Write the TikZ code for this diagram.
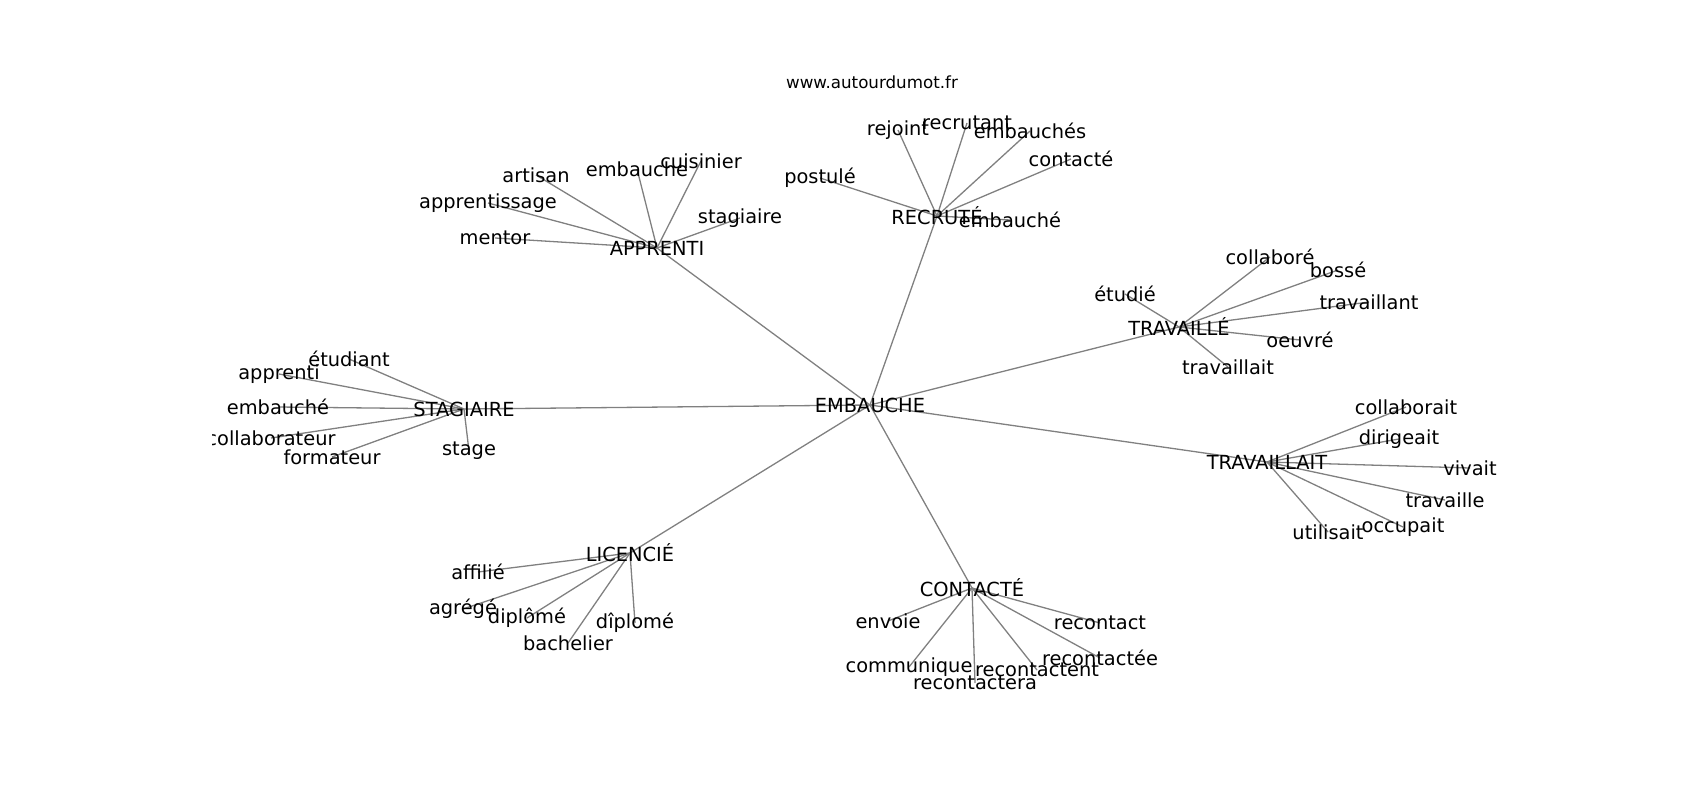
\documentclass[tikz,border=0pt]{standalone}
\usepackage{fontspec}
\setmainfont{DejaVu Sans}
\pgfdeclarelayer{bg}
\pgfsetlayers{bg,main}
\tikzset{
  lbl/.style={inner sep=0pt, font=\fontsize{19.4}{23}\selectfont, text=black},
  ttl/.style={inner sep=0pt, font=\fontsize{16.7}{20}\selectfont, text=black},
  edge/.style={draw=black!50, line width=1.3pt},
}
\begin{document}
\begin{tikzpicture}[x=1pt,y=-1pt]
\useasboundingbox (0,0) rectangle (1700,800);
\node[ttl] (title) at (872,82) {www.autourdumot.fr};
\begin{scope}
\clip (212.5,96) rectangle (1530,712);
\node[lbl] (emb) at (870,405) {EMBAUCHE};
% APPRENTI
\node[lbl] (app) at (657,248) {APPRENTI};
\node[lbl] (a1) at (536,175) {artisan};
\node[lbl] (a2) at (637,169) {embauche};
\node[lbl] (a3) at (701,161) {cuisinier};
\node[lbl] (a4) at (488,203) {apprentissage};
\node[lbl] (a5) at (495,238) {mentor};
\node[lbl] (a6) at (740,218) {stagiaire};
% RECRUTE
\node[lbl] (rec) at (937,216) {RECRUTÉ};
\node[lbl] (r1) at (898,130) {rejoint};
\node[lbl] (r2) at (967,123) {recrutant};
\node[lbl] (r3) at (1030,131) {embauchés};
\node[lbl] (r4) at (1071,159) {contacté};
\node[lbl] (r5) at (820,178) {postulé};
\node[lbl] (r6) at (1010,220) {embauché};
% TRAVAILLE
\node[lbl] (tve) at (1179,327) {TRAVAILLÉ};
\node[lbl] (e1) at (1270,257) {collaboré};
\node[lbl] (e2) at (1338,270) {bossé};
\node[lbl] (e3) at (1125,294) {étudié};
\node[lbl] (e4) at (1369,302) {travaillant};
\node[lbl] (e5) at (1300,340) {oeuvré};
\node[lbl] (e6) at (1228,367) {travaillait};
% TRAVAILLAIT
\node[lbl] (tvt) at (1267,462) {TRAVAILLAIT};
\node[lbl] (t1) at (1406,407) {collaborait};
\node[lbl] (t2) at (1399,439) {dirigeait};
\node[lbl] (t3) at (1470,468) {vivait};
\node[lbl] (t4) at (1445,500) {travaille};
\node[lbl] (t5) at (1328,532) {utilisait};
\node[lbl] (t6) at (1403,527) {occupait};
% STAGIAIRE
\node[lbl] (sta) at (464,409) {STAGIAIRE};
\node[lbl] (s1) at (349,359) {étudiant};
\node[lbl] (s2) at (279,374) {apprenti};
\node[lbl] (s3) at (278,407) {embauché};
\node[lbl] (s4) at (271,438) {collaborateur};
\node[lbl] (s5) at (332,457) {formateur};
\node[lbl] (s6) at (469,451) {stage};
% LICENCIE
\node[lbl] (lic) at (630,553) {LICENCIÉ};
\node[lbl] (l1) at (478,572) {affilié};
\node[lbl] (l2) at (463,609) {agrégé};
\node[lbl] (l3) at (527,618) {diplômé};
\node[lbl] (l4) at (635,623) {dîplomé};
\node[lbl] (l5) at (568,643) {bachelier};
% CONTACTE
\node[lbl] (con) at (972,588) {CONTACTÉ};
\node[lbl] (c1) at (888,621) {envoie};
\node[lbl] (c2) at (1100,623) {recontact};
\node[lbl] (c3) at (909,667) {communique};
\node[lbl] (c4) at (975,683) {recontactera};
\node[lbl] (c5) at (1037,670) {recontactent};
\node[lbl] (c6) at (1100,658) {recontactée};
\end{scope}
\begin{pgfonlayer}{bg}
\foreach \h in {app,rec,tve,tvt,sta,lic,con}
  \draw[edge] (emb.center) -- (\h.center);
\foreach \l in {a1,a2,a3,a4,a5,a6} \draw[edge] (app.center) -- (\l.center);
\foreach \l in {r1,r2,r3,r4,r5,r6} \draw[edge] (rec.center) -- (\l.center);
\foreach \l in {e1,e2,e3,e4,e5,e6} \draw[edge] (tve.center) -- (\l.center);
\foreach \l in {t1,t2,t3,t4,t5,t6} \draw[edge] (tvt.center) -- (\l.center);
\foreach \l in {s1,s2,s3,s4,s5,s6} \draw[edge] (sta.center) -- (\l.center);
\foreach \l in {l1,l2,l3,l4,l5} \draw[edge] (lic.center) -- (\l.center);
\foreach \l in {c1,c2,c3,c4,c5,c6} \draw[edge] (con.center) -- (\l.center);
\end{pgfonlayer}
\end{tikzpicture}
\end{document}
